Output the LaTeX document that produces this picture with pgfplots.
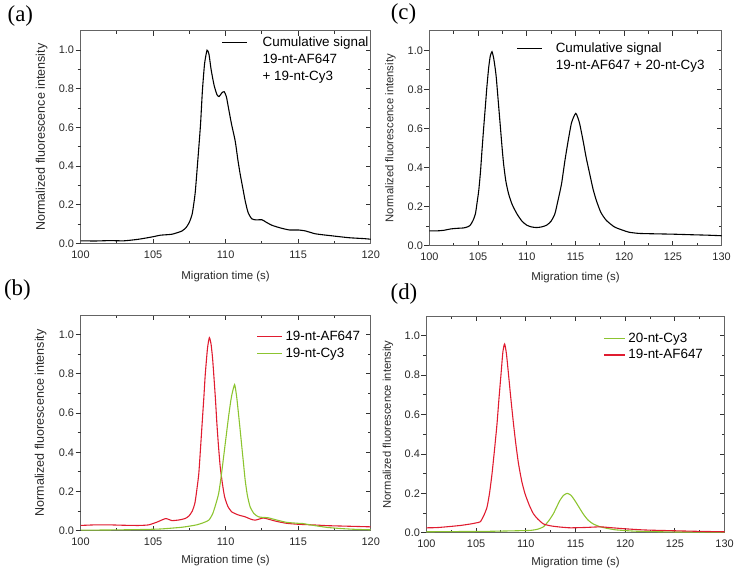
\documentclass[border=0pt]{standalone}
\usepackage{pgfplots}
\pgfplotsset{compat=1.18}
\usepackage{fontspec}
\setmainfont{Liberation Sans}
\newfontfamily\seriffont{Liberation Serif}
\definecolor{axgray}{RGB}{100,100,100}
\definecolor{tickgray}{RGB}{50,50,50}
\definecolor{txtgray}{RGB}{40,40,40}
\definecolor{cred}{RGB}{224,28,48}
\definecolor{cgreen}{RGB}{140,196,48}
\pgfplotsset{
  panel/.style={
    scale only axis,
    axis line style={draw=axgray, line width=0.9pt},
    tick style={color=tickgray, line width=0.9pt},
    major tick length=5pt, minor tick length=3pt,
    ymin=0, ymax=1.1,
    ytick={0,0.2,0.4,0.6,0.8,1.0},
    minor y tick num=1, minor x tick num=1,
    tick label style={font=\fontsize{11}{13}\selectfont, text=txtgray},
    xticklabel style={yshift=-3.5pt},
    yticklabel style={xshift=-3pt},
    /pgf/number format/assume math mode=true,
    yticklabel style={/pgf/number format/.cd, fixed, fixed zerofill, precision=1},
    label style={font=\fontsize{11.5}{13}\selectfont, text=txtgray},
    xlabel={Migration time (s)},
    ylabel={Normalized fluorescence intensity},
    tick align=inside, xtick pos=both, ytick pos=right,
    xticklabel pos=bottom, yticklabel pos=left,
    legend cell align=left,
    legend style={draw=none, fill=none, inner sep=0pt, row sep=1pt,
      font=\fontsize{13.5}{15}\selectfont, text=black,
      nodes={inner sep=1pt, text height=11pt, text depth=3pt}},
  },
  mirror/.style={
    scale only axis,
    axis line style={draw=none},
    tick style={color=tickgray, line width=0.9pt},
    major tick length=5pt, minor tick length=3pt,
    ymin=0, ymax=1.1,
    ytick={0,0.2,0.4,0.6,0.8,1.0},
    minor y tick num=1,
    xtick=\empty,
    tick align=outside, ytick pos=left,
    yticklabels={},
  },
}
\begin{document}
\begin{tikzpicture}
% ---------------- (a)
\begin{axis}[panel, at={(81pt,329pt)}, anchor=south west, width=292pt, height=214pt,
  xmin=100, xmax=120, xtick={100,105,110,115,120},
  ylabel style={at={(axis description cs:-0.134,0.5)}, anchor=center, font=\fontsize{12.6}{14}\selectfont},
  xlabel style={at={(axis description cs:0.5,0)}, anchor=center, yshift=-33pt},
  legend style={at={(axis description cs:0.486,0.983)}, anchor=north west},
  legend image code/.code={\draw[#1] (0pt,0pt) -- (25pt,0pt); \path (39pt,0pt);}]
\addplot[black, line width=1.1pt, smooth, tension=0.35] coordinates {
(100,0.014) (101,0.013) (102,0.015) (103,0.014) (104,0.022) (105,0.035) (105.5,0.043)
(106.3,0.048) (107,0.065) (107.3,0.085) (107.5,0.11) (107.7,0.154) (107.9,0.26)
(108.1,0.446) (108.27,0.615) (108.4,0.79) (108.55,0.93) (108.72,1.0) (108.85,0.98)
(109.0,0.90) (109.2,0.82) (109.4,0.77) (109.55,0.76) (109.75,0.78) (109.9,0.785)
(110.05,0.76) (110.2,0.70) (110.4,0.62) (110.66,0.53) (110.85,0.43) (111.0,0.36)
(111.2,0.28) (111.35,0.22) (111.55,0.16) (111.8,0.128) (112.1,0.122) (112.5,0.123)
(112.8,0.11) (113.2,0.094) (113.8,0.08) (114.4,0.07) (115.0,0.07) (115.5,0.065)
(116.2,0.05) (117.3,0.04) (118.5,0.03) (119.6,0.025) (120,0.022)};
\addlegendentry{Cumulative signal}
\addlegendimage{empty legend}\addlegendentry{19-nt-AF647}
\addlegendimage{empty legend}\addlegendentry{+ 19-nt-Cy3}
\end{axis}
\begin{axis}[mirror, at={(81pt,329pt)}, anchor=south west, width=292pt, height=214pt,
  xmin=100, xmax=120]
\end{axis}

% ---------------- (b)
\begin{axis}[panel, at={(81pt,40pt)}, anchor=south west, width=292pt, height=217pt,
  xmin=100, xmax=120, xtick={100,105,110,115,120},
  ylabel style={at={(axis description cs:-0.137,0.5)}, anchor=center, font=\fontsize{12.6}{14}\selectfont},
  xlabel style={at={(axis description cs:0.5,0)}, anchor=center, yshift=-30pt},
  legend style={at={(axis description cs:0.606,0.940)}, anchor=north west},
  legend image code/.code={\draw[#1] (0pt,0pt) -- (25pt,0pt); \path (27pt,0pt);}]
\addplot[cred, line width=1.1pt, smooth, tension=0.35] coordinates {
(100,0.027) (101,0.03) (102,0.03) (103,0.028) (104,0.027) (104.7,0.03) (105.3,0.045)
(105.87,0.062) (106.3,0.052) (106.78,0.055) (107.2,0.062) (107.47,0.075) (107.7,0.10)
(107.88,0.14) (108.0,0.2) (108.15,0.29) (108.27,0.42) (108.38,0.545) (108.5,0.68)
(108.6,0.80) (108.75,0.93) (108.88,0.985) (109.0,0.95) (109.1,0.88) (109.18,0.80)
(109.3,0.67) (109.4,0.545) (109.5,0.44) (109.63,0.325) (109.78,0.24) (109.93,0.173)
(110.15,0.125) (110.43,0.096) (110.9,0.08) (111.35,0.071) (111.7,0.06) (112.03,0.054)
(112.6,0.065) (113.0,0.058) (113.5,0.048) (114.2,0.038) (115,0.033) (116,0.03)
(117,0.026) (118,0.024) (119,0.022) (120,0.02)};
\addlegendentry{19-nt-AF647}
\addplot[cgreen, line width=1.1pt, smooth, tension=0.35] coordinates {
(100,0.003) (102,0.004) (104,0.006) (105.5,0.009) (107,0.018) (108,0.03) (108.5,0.042)
(108.84,0.054) (109.1,0.085) (109.3,0.13) (109.52,0.19) (109.7,0.28) (109.86,0.376)
(110.05,0.49) (110.2,0.58) (110.35,0.66) (110.45,0.70) (110.62,0.745) (110.75,0.69)
(110.84,0.63) (110.98,0.53) (111.12,0.426) (111.25,0.33) (111.35,0.257) (111.5,0.18)
(111.69,0.122) (111.95,0.088) (112.26,0.071) (112.6,0.068) (112.95,0.066) (113.5,0.055)
(114.2,0.043) (115,0.038) (115.3,0.037) (116,0.028) (117,0.017) (118,0.011) (119,0.007)
(120,0.005)};
\addlegendentry{19-nt-Cy3}
\end{axis}
\begin{axis}[mirror, at={(81pt,40pt)}, anchor=south west, width=292pt, height=217pt,
  xmin=100, xmax=120]
\end{axis}

% ---------------- (c)
\begin{axis}[panel, at={(432pt,327pt)}, anchor=south west, width=294pt, height=216pt,
  xmin=100, xmax=130, xtick={100,105,110,115,120,125,130},
  ylabel style={at={(axis description cs:-0.133,0.5)}, anchor=center, font=\fontsize{11.3}{13}\selectfont},
  xlabel style={at={(axis description cs:0.5,0)}, anchor=center, yshift=-32pt},
  legend style={at={(axis description cs:0.299,0.954)}, anchor=north west},
  legend image code/.code={\draw[#1] (0pt,0pt) -- (25pt,0pt); \path (37pt,0pt);}]
\addplot[black, line width=1.1pt, smooth, tension=0.35] coordinates {
(100,0.075) (100.8,0.075) (101.5,0.078) (102.2,0.085) (102.86,0.088) (103.5,0.09)
(103.9,0.095) (104.2,0.104) (104.5,0.13) (104.73,0.163) (104.9,0.22) (105.07,0.282)
(105.25,0.38) (105.4,0.486) (105.57,0.60) (105.74,0.707) (105.9,0.81) (106.09,0.912)
(106.25,0.97) (106.43,0.993) (106.6,0.96) (106.75,0.91) (106.87,0.86) (107.07,0.74)
(107.27,0.62) (107.45,0.51) (107.62,0.418) (107.85,0.33) (108.13,0.265) (108.5,0.21)
(108.98,0.163) (109.5,0.125) (110.0,0.104) (110.5,0.095) (111.0,0.092) (111.5,0.095)
(112.04,0.104) (112.5,0.125) (112.89,0.163) (113.2,0.23) (113.57,0.316) (113.9,0.43)
(114.25,0.537) (114.6,0.63) (115.03,0.677) (115.4,0.63) (115.78,0.537) (116.1,0.45)
(116.46,0.367) (116.8,0.29) (117.14,0.231) (117.6,0.17) (118.16,0.129) (119,0.095)
(119.87,0.078) (120.5,0.068) (121.5,0.062) (123,0.06) (125,0.058) (127,0.055)
(128.5,0.053) (130,0.05)};
\addlegendentry{Cumulative signal}
\addlegendimage{empty legend}\addlegendentry{19-nt-AF647 + 20-nt-Cy3}
\end{axis}
\begin{axis}[mirror, at={(432pt,327pt)}, anchor=south west, width=294pt, height=216pt,
  xmin=100, xmax=130]
\end{axis}

% ---------------- (d)
\begin{axis}[panel, at={(429pt,38pt)}, anchor=south west, width=300pt, height=218pt,
  xmin=100, xmax=130, xtick={100,105,110,115,120,125,130},
  ylabel style={at={(axis description cs:-0.129,0.5)}, anchor=center, font=\fontsize{11.3}{13}\selectfont},
  xlabel style={at={(axis description cs:0.5,0)}, anchor=center, yshift=-30pt},
  legend style={at={(axis description cs:0.593,0.936)}, anchor=north west},
  legend image code/.code={\draw[#1] (0pt,0pt) -- (21pt,0pt); \path (23pt,0pt);}]
\addplot[cgreen, line width=1.1pt, smooth, tension=0.35] coordinates {
(100,0.005) (103,0.006) (106,0.007) (109,0.01) (110.5,0.012) (111.2,0.018) (111.77,0.03)
(112.3,0.06) (112.77,0.096) (113.1,0.13) (113.43,0.164) (113.8,0.19) (114.17,0.20)
(114.55,0.19) (114.93,0.164) (115.35,0.13) (115.77,0.096) (116.25,0.065) (116.77,0.045)
(117.5,0.03) (118.2,0.022) (119,0.015) (120,0.011) (121,0.008) (122.5,0.006) (125,0.004)
(130,0.003)};
\addlegendentry{20-nt-Cy3}
\addplot[cred, line width=1.1pt, smooth, tension=0.35] coordinates {
(100,0.025) (101,0.026) (102,0.03) (103.43,0.037) (104.5,0.045) (105.0,0.05) (105.43,0.056)
(105.8,0.09) (106.1,0.13) (106.35,0.2) (106.6,0.298) (106.85,0.42) (107.1,0.55) (107.3,0.68)
(107.5,0.80) (107.7,0.92) (107.87,0.958) (108.05,0.91) (108.27,0.80) (108.5,0.68)
(108.77,0.55) (109.0,0.45) (109.27,0.35) (109.6,0.26) (109.93,0.197) (110.35,0.14)
(110.77,0.096) (111.2,0.07) (111.77,0.045) (112.5,0.035) (113.43,0.029) (114.5,0.025)
(116.1,0.027) (117.5,0.03) (118.5,0.026) (120,0.02) (122,0.014) (125,0.01) (127.5,0.007)
(130,0.005)};
\addlegendentry{19-nt-AF647}
\end{axis}
\begin{axis}[mirror, at={(429pt,38pt)}, anchor=south west, width=300pt, height=218pt,
  xmin=100, xmax=130]
\end{axis}

% panel labels
\node[font=\seriffont\fontsize{23}{23}\selectfont] at (20.5pt,558pt) {(a)};
\node[font=\seriffont\fontsize{23}{23}\selectfont] at (17.5pt,282pt) {(b)};
\node[font=\seriffont\fontsize{23}{23}\selectfont] at (406pt,560pt) {(c)};
\node[font=\seriffont\fontsize{23}{23}\selectfont] at (406.5pt,278pt) {(d)};
\path (0pt,0pt) rectangle (737pt,574pt);
\end{tikzpicture}
\end{document}
